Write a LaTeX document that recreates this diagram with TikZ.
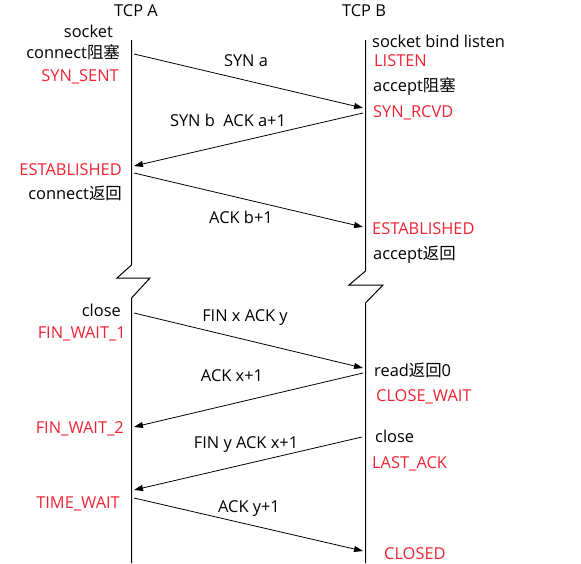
\documentclass[tikz,border=0pt]{standalone}
\usepackage{fontspec}
\setmainfont{Open Sans}
\newfontfamily\cjk{Noto Sans CJK SC}
\newcommand{\zh}[1]{{\cjk #1}}
\usetikzlibrary{arrows.meta}
\definecolor{stred}{RGB}{238,34,51}
\tikzset{
  txt/.style={inner sep=0pt, font=\fontsize{16.4}{18}\selectfont},
  atxt/.style={txt, anchor=base east},
  btxt/.style={txt, anchor=base west},
  lbl/.style={txt, anchor=base},
  st/.style={text=stred},
  life/.style={line width=1pt},
  msg/.style={line width=0.8pt, -{Triangle[length=9pt,width=6pt]}}
}
\begin{document}
\begin{tikzpicture}[x=1pt,y=-1pt]
\useasboundingbox (0,0) rectangle (581,563);
% lifelines
\draw[life] (131.5,40) -- (131.5,265) -- (117,278) -- (150,278) -- (131.5,298) -- (131.5,563);
\draw[life] (365.5,40) -- (365.5,271) -- (349,285) -- (383,285) -- (365.5,303) -- (365.5,563);
% headers
\node[lbl] (ha) at (136,16) {TCP A};
\node[lbl] (hb) at (364,16) {TCP B};
% A side texts
\node[atxt] (a1) at (113,37) {socket};
\node[atxt] (a2) at (120,58) {connect\zh{阻塞}};
\node[atxt,st] (a3) at (119,81) {SYN\_SENT};
\node[atxt,st] (a4) at (122,175) {ESTABLISHED};
\node[atxt] (a5) at (122,199) {connect\zh{返回}};
\node[atxt] (a6) at (121,316) {close};
\node[atxt,st] (a7) at (126,338) {FIN\_WAIT\_1};
\node[atxt,st] (a8) at (124,433) {FIN\_WAIT\_2};
\node[atxt,st] (a9) at (120,508) {TIME\_WAIT};
% B side texts
\node[btxt] (b1) at (372,47) {socket bind listen};
\node[btxt,st] (b2) at (374,66) {LISTEN};
\node[btxt] (b3) at (373,91) {accept\zh{阻塞}};
\node[btxt,st] (b4) at (373,117) {SYN\_RCVD};
\node[btxt,st] (b5) at (372,234) {ESTABLISHED};
\node[btxt] (b6) at (373,259) {accept\zh{返回}};
\node[btxt] (b7) at (374,376) {read\zh{返回}0};
\node[btxt,st] (b8) at (376,401) {CLOSE\_WAIT};
\node[btxt] (b9) at (375,442) {close};
\node[btxt,st] (b10) at (372,468) {LAST\_ACK};
\node[btxt,st] (b11) at (384,559) {CLOSED};
% message endpoints
\coordinate (p1s) at (134,54);  \coordinate (p1e) at (363,108);
\coordinate (p2s) at (363,113); \coordinate (p2e) at (134,166);
\coordinate (p3s) at (134,173); \coordinate (p3e) at (363,227);
\coordinate (p4s) at (134,313); \coordinate (p4e) at (363,368);
\coordinate (p5s) at (363,373); \coordinate (p5e) at (134,427);
\coordinate (p6s) at (362,437); \coordinate (p6e) at (134,490);
\coordinate (p7s) at (134,498); \coordinate (p7e) at (363,551);
\draw[msg] (p1s) -- (p1e);
\draw[msg] (p2s) -- (p2e);
\draw[msg] (p3s) -- (p3e);
\draw[msg] (p4s) -- (p4e);
\draw[msg] (p5s) -- (p5e);
\draw[msg] (p6s) -- (p6e);
\draw[msg] (p7s) -- (p7e);
% labels
\node[lbl] (l1) at (246,66) {SYN a};
\node[lbl] (l2) at (228,126) {SYN b\ \ ACK a+1};
\node[lbl] (l3) at (241,223) {ACK b+1};
\node[lbl] (l4) at (245,321) {FIN x ACK y};
\node[lbl] (l5) at (232,381) {ACK x+1};
\node[lbl] (l6) at (246,448) {FIN y ACK x+1};
\node[lbl] (l7) at (249,512) {ACK y+1};
\end{tikzpicture}
\end{document}
